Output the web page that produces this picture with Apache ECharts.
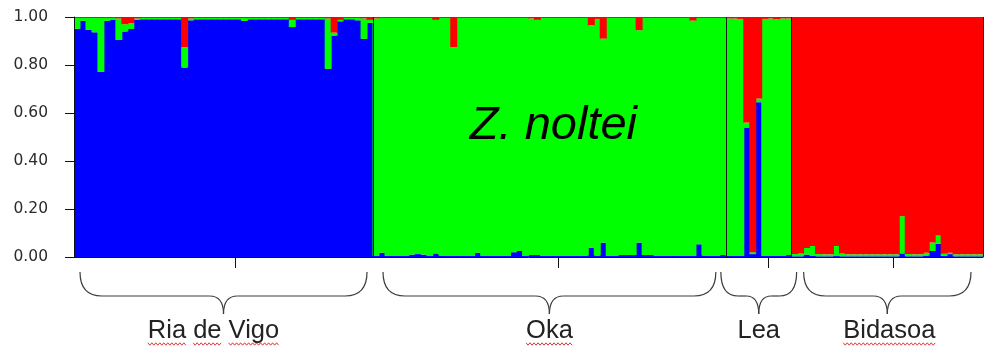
<!DOCTYPE html>
<html>
<head>
<meta charset="utf-8">
<script src="https://cdn.jsdelivr.net/npm/echarts@6/dist/echarts.min.js"></script>
<style>
  html, body { margin: 0; padding: 0; background: #ffffff; }
  #chart { width: 1008px; height: 347px; }
</style>
</head>
<body>
<div id="chart"></div>
<script>
// Population names, in plot order
const groupNames = ['Ria de Vigo', 'Oka', 'Lea', 'Bidasoa'];
// Words that carry a spell-check underline in the labels
const squiggledWords = ['Ria', 'de', 'Vigo', 'Oka', 'Bidasoa'];
// Axis tick labels
const yTicks = [0, 0.2, 0.4, 0.6, 0.8, 1.0];
// Position (in individuals) of the population tick under each group
const groupTickAt = [27, 81, 116, 137];

// Membership coefficients per individual (K = 3: blue, green, red)
const riaBlue = [
  0.951, 0.984, 0.946, 0.936, 0.771, 0.984, 0.990, 0.904, 0.940, 0.950,
  0.988, 0.991, 0.991, 0.991, 0.991, 0.991, 0.991, 0.991, 0.790, 0.986,
  0.991, 0.991, 0.991, 0.991, 0.991, 0.991, 0.991, 0.991, 0.984, 0.991,
  0.991, 0.991, 0.991, 0.991, 0.991, 0.991, 0.958, 0.991, 0.991, 0.991,
  0.991, 0.991, 0.784, 0.923, 0.982, 0.991, 0.991, 0.986, 0.909, 0.976
];
const riaGreen = [
  0.045, 0.012, 0.050, 0.060, 0.225, 0.012, 0.006, 0.090, 0.030, 0.025,
  0.006, 0.005, 0.005, 0.005, 0.005, 0.005, 0.005, 0.005, 0.085, 0.008,
  0.005, 0.005, 0.005, 0.005, 0.005, 0.005, 0.005, 0.005, 0.012, 0.005,
  0.005, 0.005, 0.005, 0.005, 0.005, 0.005, 0.030, 0.005, 0.005, 0.005,
  0.005, 0.005, 0.210, 0.012, 0.006, 0.005, 0.005, 0.010, 0.085, 0.012
];
const riaRed = [
  0.004, 0.004, 0.004, 0.004, 0.004, 0.004, 0.004, 0.006, 0.030, 0.025,
  0.006, 0.004, 0.004, 0.004, 0.004, 0.004, 0.004, 0.004, 0.125, 0.006,
  0.004, 0.004, 0.004, 0.004, 0.004, 0.004, 0.004, 0.004, 0.004, 0.004,
  0.004, 0.004, 0.004, 0.004, 0.004, 0.004, 0.012, 0.004, 0.004, 0.004,
  0.004, 0.004, 0.006, 0.065, 0.012, 0.004, 0.004, 0.004, 0.006, 0.012
];

const okaBlue = [
  0.004, 0.018, 0.004, 0.004, 0.004, 0.004, 0.010, 0.012, 0.010, 0.004,
  0.015, 0.006, 0.004, 0.004, 0.004, 0.004, 0.004, 0.018, 0.004, 0.004,
  0.004, 0.004, 0.004, 0.020, 0.025, 0.004, 0.008, 0.008, 0.004, 0.004,
  0.004, 0.004, 0.004, 0.004, 0.004, 0.006, 0.039, 0.006, 0.060, 0.004,
  0.004, 0.008, 0.008, 0.008, 0.060, 0.008, 0.008, 0.004, 0.004, 0.004,
  0.006, 0.004, 0.004, 0.004, 0.053, 0.006, 0.004, 0.004, 0.008
];
const okaGreen = [
  0.990, 0.978, 0.992, 0.992, 0.992, 0.992, 0.986, 0.984, 0.986, 0.992,
  0.973, 0.990, 0.992, 0.871, 0.992, 0.992, 0.992, 0.978, 0.992, 0.992,
  0.992, 0.992, 0.992, 0.976, 0.971, 0.992, 0.986, 0.980, 0.992, 0.992,
  0.992, 0.992, 0.992, 0.992, 0.992, 0.990, 0.926, 0.986, 0.850, 0.992,
  0.992, 0.988, 0.988, 0.988, 0.885, 0.988, 0.988, 0.992, 0.992, 0.992,
  0.990, 0.992, 0.992, 0.981, 0.943, 0.990, 0.992, 0.992, 0.988
];
const okaRed = [
  0.006, 0.004, 0.004, 0.004, 0.004, 0.004, 0.004, 0.004, 0.004, 0.004,
  0.012, 0.004, 0.004, 0.125, 0.004, 0.004, 0.004, 0.004, 0.004, 0.004,
  0.004, 0.004, 0.004, 0.004, 0.004, 0.004, 0.006, 0.012, 0.004, 0.004,
  0.004, 0.004, 0.004, 0.004, 0.004, 0.004, 0.035, 0.008, 0.090, 0.004,
  0.004, 0.004, 0.004, 0.004, 0.055, 0.004, 0.004, 0.004, 0.004, 0.004,
  0.004, 0.004, 0.004, 0.015, 0.004, 0.004, 0.004, 0.004, 0.004
];

const leaBlue  = [0.004, 0.004, 0.004, 0.540, 0.012, 0.645, 0.004, 0.004, 0.004, 0.004, 0.008];
const leaGreen = [0.990, 0.990, 0.988, 0.020, 0.008, 0.015, 0.988, 0.990, 0.986, 0.990, 0.986];
const leaRed   = [0.006, 0.006, 0.008, 0.440, 0.980, 0.340, 0.008, 0.006, 0.010, 0.006, 0.006];

const bidBlue = [
  0.003, 0.003, 0.010, 0.006, 0.003, 0.003, 0.003, 0.004, 0.003, 0.003,
  0.003, 0.003, 0.003, 0.003, 0.003, 0.003, 0.003, 0.003, 0.015, 0.003,
  0.003, 0.003, 0.006, 0.025, 0.055, 0.004, 0.012, 0.003, 0.003, 0.003,
  0.003, 0.003
];
const bidGreen = [
  0.010, 0.012, 0.028, 0.040, 0.010, 0.008, 0.008, 0.042, 0.012, 0.008,
  0.008, 0.008, 0.008, 0.008, 0.008, 0.008, 0.008, 0.008, 0.155, 0.010,
  0.008, 0.008, 0.012, 0.035, 0.035, 0.010, 0.006, 0.008, 0.008, 0.008,
  0.008, 0.008
];
const bidRed = [
  0.987, 0.985, 0.962, 0.954, 0.987, 0.989, 0.989, 0.954, 0.985, 0.989,
  0.989, 0.989, 0.989, 0.989, 0.989, 0.989, 0.989, 0.989, 0.830, 0.987,
  0.989, 0.989, 0.982, 0.940, 0.910, 0.986, 0.982, 0.989, 0.989, 0.989,
  0.989, 0.989
];

// ---- assemble the per-individual series ----
const blue  = [].concat(riaBlue, okaBlue, leaBlue, bidBlue);
const green = [].concat(riaGreen, okaGreen, leaGreen, bidGreen);
const red   = [].concat(riaRed, okaRed, leaRed, bidRed);
const groupSizes = [riaBlue.length, okaBlue.length, leaBlue.length, bidBlue.length];
const total = blue.length;
const individuals = blue.map((_, i) => String(i + 1));

const groupStart = [];
const groupEnd = [];
groupSizes.reduce((acc, n) => { groupStart.push(acc); groupEnd.push(acc + n); return acc + n; }, 0);

const FONT = '"Liberation Sans", Arial, sans-serif';
const C_BLUE = '#0000ff', C_GREEN = '#00ff00', C_RED = '#ff0000';

const GRID = { left: 74, right: 25, top: 17, bottom: 90 };
// bars are drawn a little wider than their slot so neighbours overlap
// and no anti-aliasing seams appear between individuals
const slotWidth = (1008 - GRID.left - GRID.right) / total;
const barPx = slotWidth + 1;

function barSeries(name, data, color) {
  return {
    name: name,
    type: 'bar',
    stack: 'q',
    data: data,
    barWidth: barPx,
    itemStyle: { color: color, borderWidth: 0 },
    emphasis: { disabled: true },
    z: 2
  };
}

const chart = echarts.init(document.getElementById('chart'), null, { renderer: 'canvas' });

chart.setOption({
  animation: false,
  backgroundColor: '#ffffff',
  textStyle: { fontFamily: FONT },
  grid: GRID,
  xAxis: [
    {
      type: 'category',
      data: individuals,
      boundaryGap: true,
      axisLine: { show: true, lineStyle: { color: '#111111', width: 1 } },
      axisTick: { show: false },
      axisLabel: { show: false },
      splitLine: { show: false },
      z: 5
    },
    { type: 'value', min: 0, max: total, show: false }
  ],
  yAxis: {
    type: 'value',
    min: yTicks[0],
    max: yTicks[yTicks.length - 1],
    interval: 0.2,
    axisLine: { show: true, lineStyle: { color: '#111111', width: 1 } },
    axisTick: { show: true, length: 9, lineStyle: { color: '#111111', width: 1 } },
    axisLabel: {
      formatter: v => v.toFixed(2),
      margin: 26,
      color: '#2b2b2b',
      fontSize: 15.5,
      fontFamily: '"DejaVu Sans", Verdana, sans-serif'
    },
    splitLine: { show: false },
    z: 5
  },
  series: [
    barSeries('Cluster 1', blue, C_BLUE),
    barSeries('Cluster 2', green, C_GREEN),
    barSeries('Cluster 3', red, C_RED),
    {
      // population separators
      type: 'line',
      xAxisIndex: 1,
      yAxisIndex: 0,
      data: [],
      showSymbol: false,
      silent: true,
      z: 4,
      markLine: {
        silent: true,
        symbol: ['none', 'none'],
        label: { show: false },
        lineStyle: { color: '#1a1a1a', width: 1, type: 'solid' },
        data: groupEnd.map(v => ({ xAxis: v }))
      }
    }
  ]
});

// ---- annotations below the axis: population ticks, braces and names ----
const px = v => chart.convertToPixel({ xAxisIndex: 1 }, v);
const py = v => chart.convertToPixel({ yAxisIndex: 0 }, v);
const baseY = py(0);

const bracePad = [6, 10, -5, 12];
const labelShift = [-10, 0, 0, 2];
const braceTop = baseY + 15, braceMid = baseY + 39, braceTip = baseY + 57;
const labelBaseline = baseY + 82;
const labelSize = 25.5;

const graphics = [];

groupTickAt.forEach(v => {
  const x = Math.round(px(v)) + 0.5;
  graphics.push({
    type: 'line', silent: true,
    shape: { x1: x, y1: baseY, x2: x, y2: baseY + 11 },
    style: { stroke: '#111111', lineWidth: 1 }
  });
});

function pushBrace(xa, xb, xt) {
  const r = Math.min(22, (xt - xa) / 2.2);
  const r2 = Math.min(14, (xt - xa) / 3);
  const s = { stroke: '#3c3c3c', lineWidth: 1.2, fill: 'none' };
  graphics.push({ type: 'bezierCurve', silent: true, style: s,
    shape: { x1: xa, y1: braceTop, x2: xa + r, y2: braceMid, cpx1: xa, cpy1: braceMid } });
  graphics.push({ type: 'line', silent: true, style: s,
    shape: { x1: xa + r, y1: braceMid, x2: xt - r2, y2: braceMid } });
  graphics.push({ type: 'bezierCurve', silent: true, style: s,
    shape: { x1: xt - r2, y1: braceMid, x2: xt, y2: braceTip, cpx1: xt, cpy1: braceMid } });
  graphics.push({ type: 'bezierCurve', silent: true, style: s,
    shape: { x1: xt, y1: braceTip, x2: xt + r2, y2: braceMid, cpx1: xt, cpy1: braceMid } });
  graphics.push({ type: 'line', silent: true, style: s,
    shape: { x1: xt + r2, y1: braceMid, x2: xb - r, y2: braceMid } });
  graphics.push({ type: 'bezierCurve', silent: true, style: s,
    shape: { x1: xb - r, y1: braceMid, x2: xb, y2: braceTop, cpx1: xb, cpy1: braceMid } });
}

const measureCtx = document.createElement('canvas').getContext('2d');
measureCtx.font = labelSize + 'px ' + FONT;

groupNames.forEach((name, g) => {
  const xa = px(groupStart[g]) + bracePad[g];
  const xb = px(groupEnd[g]) - bracePad[g];
  const xc = (px(groupStart[g]) + px(groupEnd[g])) / 2;
  pushBrace(xa, xb, xc);

  const lx = xc + labelShift[g];
  graphics.push({
    type: 'text', silent: true,
    style: {
      text: name, x: lx, y: labelBaseline - labelSize * 0.3,
      font: labelSize + 'px ' + FONT, fill: '#222222',
      align: 'center', verticalAlign: 'middle'
    }
  });

  // red wavy spell-check underline under flagged words
  const fullW = measureCtx.measureText(name).width;
  let cursor = lx - fullW / 2;
  name.split(' ').forEach((word, wi, arr) => {
    const w = measureCtx.measureText(word).width;
    if (squiggledWords.indexOf(word) >= 0) {
      const pts = [];
      const y0 = labelBaseline + 5;
      for (let x = cursor, k = 0; x <= cursor + w; x += 2, k++) {
        pts.push([x, y0 + (k % 2 === 0 ? -1.2 : 1.2)]);
      }
      graphics.push({ type: 'polyline', silent: true,
        shape: { points: pts }, style: { stroke: '#d42020', lineWidth: 0.9, fill: null } });
    }
    cursor += w + (wi < arr.length - 1 ? measureCtx.measureText(' ').width : 0);
  });
});

// species name written over the Oka block
graphics.push({
  type: 'text', silent: true, z: 10,
  style: {
    text: 'Z. noltei',
    x: px((groupStart[1] + groupEnd[1]) / 2) + 4,
    y: py(0.545),
    font: 'italic 47px ' + FONT, fill: '#000000',
    align: 'center', verticalAlign: 'middle'
  }
});

chart.setOption({ graphic: { elements: graphics } });
</script>
</body>
</html>
